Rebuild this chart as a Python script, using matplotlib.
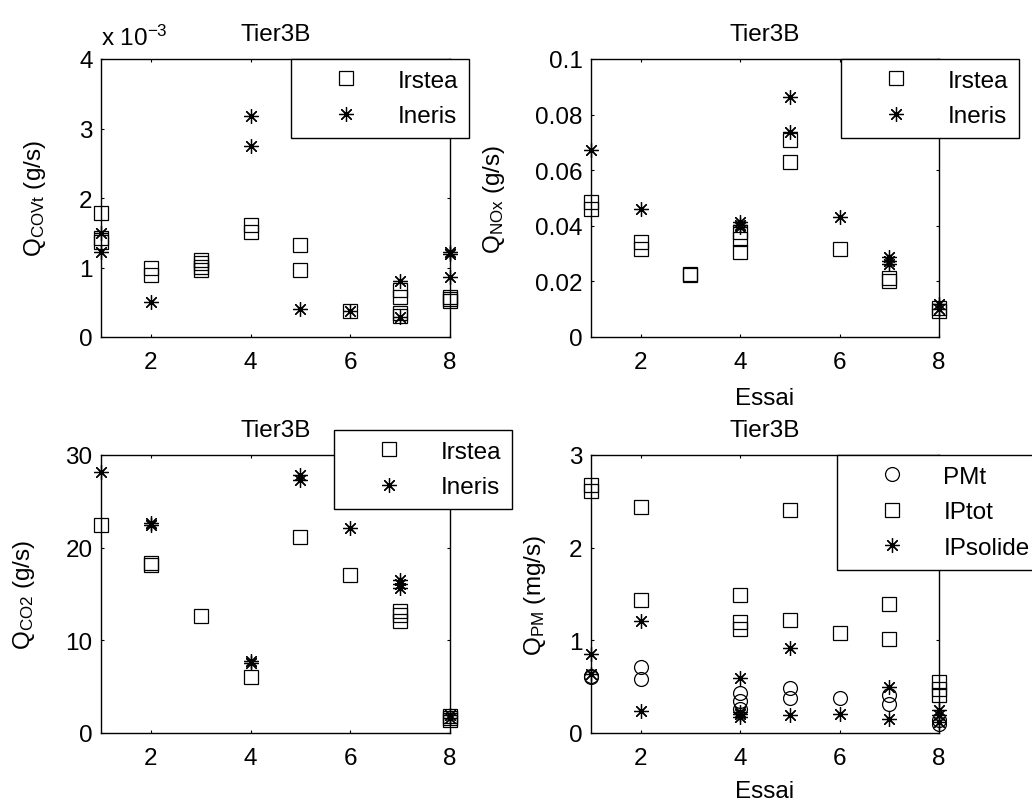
import matplotlib
matplotlib.use("Agg")
import matplotlib.pyplot as plt
from matplotlib.ticker import FixedLocator, FuncFormatter
import numpy as np

plt.rcParams['font.family'] = ['Liberation Sans', 'DejaVu Sans']
plt.rcParams['mathtext.fontset'] = 'custom'
plt.rcParams['mathtext.rm'] = 'Liberation Sans'
plt.rcParams['mathtext.it'] = 'Liberation Sans:italic'
plt.rcParams['font.size'] = 17.5

# ---------------- data ----------------
# COVt (values in g/s, read as x 1e-3)
cov_irstea_x = [1, 1, 1, 2, 2, 3, 3, 3, 3, 4, 4, 5, 5, 6, 7, 7, 7, 7, 8, 8, 8]
cov_irstea_y = [1.79, 1.42, 1.36, 0.99, 0.89, 1.11, 1.06, 1.01, 0.96, 1.61, 1.51,
                1.32, 0.97, 0.37, 0.67, 0.58, 0.35, 0.30, 0.58, 0.54, 0.52]
cov_ineris_x = [1, 1, 2, 4, 4, 5, 6, 7, 7, 8, 8, 8]
cov_ineris_y = [1.50, 1.23, 0.51, 3.18, 2.75, 0.41, 0.37, 0.80, 0.29, 1.22, 1.19, 0.87]

# NOx (g/s)
nox_irstea_x = [1, 1, 2, 2, 3, 3, 4, 4, 4, 5, 5, 6, 7, 7, 8, 8]
nox_irstea_y = [0.0486, 0.0462, 0.0342, 0.0318, 0.0228, 0.0222, 0.0376, 0.0354, 0.0306,
                0.0708, 0.0630, 0.0318, 0.0212, 0.0200, 0.0106, 0.0094]
nox_ineris_x = [1, 2, 4, 4, 4, 5, 5, 6, 7, 7, 7, 8, 8]
nox_ineris_y = [0.0672, 0.0462, 0.0414, 0.0404, 0.0394, 0.0862, 0.0736, 0.0430,
                0.0286, 0.0274, 0.0262, 0.0118, 0.0100]

# CO2 (g/s)
co2_irstea_x = [1, 2, 2, 3, 4, 5, 6, 7, 7, 7, 8, 8, 8]
co2_irstea_y = [22.4, 18.3, 18.1, 12.6, 6.0, 21.2, 17.0, 13.2, 12.7, 12.1, 1.8, 1.6, 1.4]
co2_ineris_x = [1, 2, 2, 4, 4, 5, 5, 6, 7, 7, 7, 8, 8]
co2_ineris_y = [28.2, 22.7, 22.4, 7.8, 7.6, 27.8, 27.3, 22.1, 16.5, 16.1, 15.7, 1.9, 1.6]

# PM (mg/s)
pmt_x = [1, 1, 2, 2, 4, 4, 4, 5, 5, 6, 7, 7, 8, 8]
pmt_y = [0.60, 0.62, 0.71, 0.58, 0.43, 0.34, 0.26, 0.49, 0.38, 0.38, 0.41, 0.31, 0.14, 0.10]
iptot_x = [1, 1, 2, 2, 4, 4, 4, 5, 5, 6, 7, 7, 8, 8, 8]
iptot_y = [2.68, 2.61, 2.44, 1.44, 1.49, 1.20, 1.12, 2.41, 1.22, 1.08, 1.39, 1.01, 0.55, 0.48, 0.41]
ipsol_x = [1, 1, 2, 2, 4, 4, 4, 4, 5, 5, 6, 7, 7, 8, 8, 8]
ipsol_y = [0.85, 0.64, 1.21, 0.24, 0.59, 0.23, 0.20, 0.17, 0.92, 0.19, 0.20, 0.50, 0.15, 0.25, 0.19, 0.12]

title = "Tier3B"
xlabel = "Essai"
xticks = [2, 4, 6, 8]

# ---------------- figure ----------------
W, H = 1032, 803
fig = plt.figure(figsize=(W / 100, H / 100), dpi=100)

def add_ax(l, r, t, b):
    return fig.add_axes([l / W, 1 - b / H, (r - l) / W, (b - t) / H])

STAR = (8, 2, 0)
mk = dict(linestyle='none', color='black', mfc='none', mew=0.9, clip_on=False)

def style(ax, ylim, yticks, fmt):
    ax.set_xlim(1, 8)
    ax.set_ylim(*ylim)
    ax.xaxis.set_major_locator(FixedLocator(xticks))
    ax.yaxis.set_major_locator(FixedLocator(yticks))
    ax.yaxis.set_major_formatter(FuncFormatter(fmt))
    ax.xaxis.set_major_formatter(FuncFormatter(lambda v, p: '%g' % v))
    ax.tick_params(direction='in', length=2.5, width=0.8, top=True, right=True)
    ax.tick_params(axis='x', pad=10)
    ax.tick_params(axis='y', pad=6)
    for s in ax.spines.values():
        s.set_linewidth(1.0)
    ax.set_title(title, pad=14, fontsize=17.5)

def legend(ax, x0, y0, **kw):
    leg = ax.legend(loc='upper left', bbox_to_anchor=(x0 / W, 1 - y0 / H),
                    bbox_transform=fig.transFigure, frameon=True, fancybox=False,
                    edgecolor='black', framealpha=1, borderpad=0.45, handlelength=3.6,
                    handletextpad=0.33, labelspacing=0.55, borderaxespad=0,
                    fontsize=17.5, **kw)
    leg.get_frame().set_linewidth(1.0)
    return leg

# Top-left: COVt
ax1 = add_ax(101, 450, 60, 338)
ax1.plot(cov_irstea_x, np.array(cov_irstea_y) * 1e-3, marker='s', ms=9.6, label='Irstea', **mk)
ax1.plot(cov_ineris_x, np.array(cov_ineris_y) * 1e-3, marker=STAR, ms=10.5, label='Ineris', **mk)
style(ax1, (0, 4e-3), [0, 1e-3, 2e-3, 3e-3, 4e-3], lambda v, p: '%g' % round(v * 1e3, 6))
ax1.text(0, 1.05, r'x 10$^{-3}$', transform=ax1.transAxes, ha='left', va='baseline', fontsize=17.5)
ax1.set_ylabel(r'Q$_{\mathrm{COVt}}$ (g/s)')
ax1.yaxis.set_label_coords(-0.152, 0.5)
legend(ax1, 291, 60)

# Top-right: NOx
ax2 = add_ax(591, 939, 60, 338)
ax2.plot(nox_irstea_x, nox_irstea_y, marker='s', ms=9.6, label='Irstea', **mk)
ax2.plot(nox_ineris_x, nox_ineris_y, marker=STAR, ms=10.5, label='Ineris', **mk)
style(ax2, (0, 0.1), [0, 0.02, 0.04, 0.06, 0.08, 0.1], lambda v, p: '%g' % round(v, 6))
ax2.set_ylabel(r'Q$_{\mathrm{NOx}}$ (g/s)')
ax2.yaxis.set_label_coords(-0.241, 0.5)
ax2.set_xlabel(xlabel, labelpad=10)
legend(ax2, 841, 60)

# Bottom-left: CO2
ax3 = add_ax(101, 450, 456, 734)
ax3.plot(co2_irstea_x, co2_irstea_y, marker='s', ms=9.6, label='Irstea', **mk)
ax3.plot(co2_ineris_x, co2_ineris_y, marker=STAR, ms=10.5, label='Ineris', **mk)
style(ax3, (0, 30), [0, 10, 20, 30], lambda v, p: '%g' % v)
ax3.set_ylabel(r'Q$_{\mathrm{CO2}}$ (g/s)')
ax3.yaxis.set_label_coords(-0.183, 0.5)
legend(ax3, 334, 431)

# Bottom-right: PM
ax4 = add_ax(591, 939, 456, 734)
ax4.plot(pmt_x, pmt_y, marker='o', ms=10, label='PMt', **mk)
ax4.plot(iptot_x, iptot_y, marker='s', ms=9.6, label='IPtot', **mk)
ax4.plot(ipsol_x, ipsol_y, marker=STAR, ms=10.5, label='IPsolide', **mk)
style(ax4, (0, 3), [0, 1, 2, 3], lambda v, p: '%g' % v)
ax4.set_ylabel(r'Q$_{\mathrm{PM}}$ (mg/s)')
ax4.yaxis.set_label_coords(-0.124, 0.5)
ax4.set_xlabel(xlabel, labelpad=8)
legend(ax4, 837, 456)

fig.savefig('out.png', dpi=100, facecolor='white')
